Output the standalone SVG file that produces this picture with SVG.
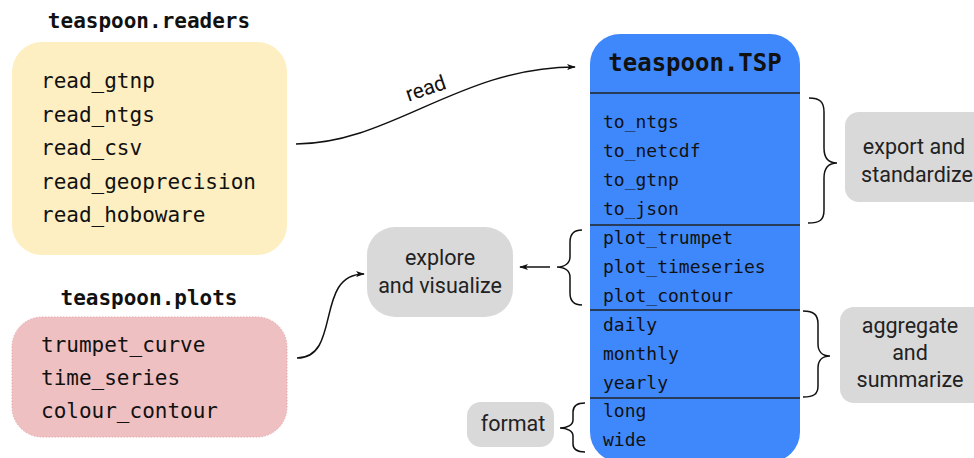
<svg xmlns="http://www.w3.org/2000/svg" width="974" height="458" viewBox="0 0 974 458">
<defs>
<marker id="ah" viewBox="0 0 10 10" refX="9" refY="5" markerWidth="9" markerHeight="9" markerUnits="userSpaceOnUse" orient="auto">
<path d="M0,1.5 L10,5 L0,8.5 L2.5,5 Z" fill="#111"/>
</marker>
<style>
.mono{font-family:"DejaVu Sans Mono","Liberation Mono",monospace;fill:#111;}
.item{font-size:21px;}
.titem{font-size:18px;}
.title{font-size:21px;font-weight:bold;}
.lbl{font-family:Roboto,"Liberation Sans",sans-serif;font-size:21.5px;fill:#222;text-anchor:middle;}
.gray{fill:#d9d9d9;}
.edge{fill:none;stroke:#111;stroke-width:1.5;}
.sep{stroke:#222;stroke-width:1.3;}
</style>
</defs>
<rect width="974" height="458" fill="#fff"/>

<g id="readers">
<text class="mono title" x="149" y="28" text-anchor="middle">teaspoon.readers</text>
<rect x="12" y="42" width="275" height="213" rx="30" fill="#fdefc1"/>
<text class="mono item" x="41" y="88">read_gtnp</text>
<text class="mono item" x="41" y="122">read_ntgs</text>
<text class="mono item" x="41" y="155">read_csv</text>
<text class="mono item" x="41" y="189">read_geoprecision</text>
<text class="mono item" x="41" y="222">read_hoboware</text>
</g>

<g id="plots">
<text class="mono title" x="149" y="305" text-anchor="middle">teaspoon.plots</text>
<rect x="12" y="317" width="275" height="120" rx="30" fill="#efc0c2" stroke="#e7a9ac" stroke-width="1" stroke-dasharray="1.5,1.5"/>
<text class="mono item" x="41" y="352">trumpet_curve</text>
<text class="mono item" x="41" y="385">time_series</text>
<text class="mono item" x="41" y="418">colour_contour</text>
</g>

<g id="tsp">
<rect x="590" y="34" width="210" height="428" rx="30" fill="#3f88fc"/>
<text class="mono" x="695" y="71" text-anchor="middle" font-size="24" font-weight="bold">teaspoon.TSP</text>
<line class="sep" x1="590" y1="93" x2="800" y2="93"/>
<line class="sep" x1="590" y1="225" x2="800" y2="225"/>
<line class="sep" x1="590" y1="310" x2="800" y2="310"/>
<line class="sep" x1="590" y1="398" x2="800" y2="398"/>
<text class="mono titem" x="603" y="128">to_ntgs</text>
<text class="mono titem" x="603" y="157">to_netcdf</text>
<text class="mono titem" x="603" y="186">to_gtnp</text>
<text class="mono titem" x="603" y="215">to_json</text>
<text class="mono titem" x="603" y="244">plot_trumpet</text>
<text class="mono titem" x="603" y="273">plot_timeseries</text>
<text class="mono titem" x="603" y="302">plot_contour</text>
<text class="mono titem" x="603" y="331">daily</text>
<text class="mono titem" x="603" y="360">monthly</text>
<text class="mono titem" x="603" y="389">yearly</text>
<text class="mono titem" x="603" y="417">long</text>
<text class="mono titem" x="603" y="446">wide</text>
</g>

<g id="export">
<rect class="gray" x="845" y="112" width="145" height="90" rx="14"/>
<text class="lbl" x="914" y="154">export and</text>
<text class="lbl" x="917" y="182">standardize</text>
</g>

<g id="explore">
<rect class="gray" x="367" y="227" width="146" height="90" rx="28"/>
<text class="lbl" x="440" y="265">explore</text>
<text class="lbl" x="440" y="293">and visualize</text>
</g>

<g id="aggregate">
<rect class="gray" x="840" y="307" width="150" height="96" rx="14"/>
<text class="lbl" x="910" y="333">aggregate</text>
<text class="lbl" x="910" y="360">and</text>
<text class="lbl" x="910" y="387">summarize</text>
</g>

<g id="format">
<rect class="gray" x="467" y="402" width="87" height="45" rx="14"/>
<text class="lbl" x="513" y="431">format</text>
</g>

<g id="connectors">
<path class="edge" d="M296,144 C390,144 460,67 575,67" marker-end="url(#ah)"/>
<text font-family="Roboto,'Liberation Sans',sans-serif" font-size="21" fill="#111" text-anchor="middle" transform="translate(428,95) rotate(-19)">read</text>
<path class="edge" d="M297,358 C342,358 314,274 364,274" marker-end="url(#ah)"/>
<path class="edge" d="M809,98 C820,98 824,102 824,112 L824,148 C824,158 828,163 837,163 C828,163 824,168 824,178 L824,210 C824,220 820,223 808,223"/>
<path class="edge" d="M582,230 C574,230 570,234 570,242 L570,257 C570,263 565,267 557,267 C565,267 570,271 570,277 L570,293 C570,301 574,305 582,305"/>
<path class="edge" d="M550,267 L520,267" marker-end="url(#ah)"/>
<path class="edge" d="M803,311 C814,311 818,315 818,324 L818,344 C818,351 822,356 830,356 C822,356 818,361 818,368 L818,386 C818,394 814,397 803,397"/>
<path class="edge" d="M585,403 C577,403 573,406 573,412 L573,420 C573,425 567,428 560,428 C567,428 573,431 573,436 L573,444 C573,450 577,452 585,452"/>
</g>
</svg>
